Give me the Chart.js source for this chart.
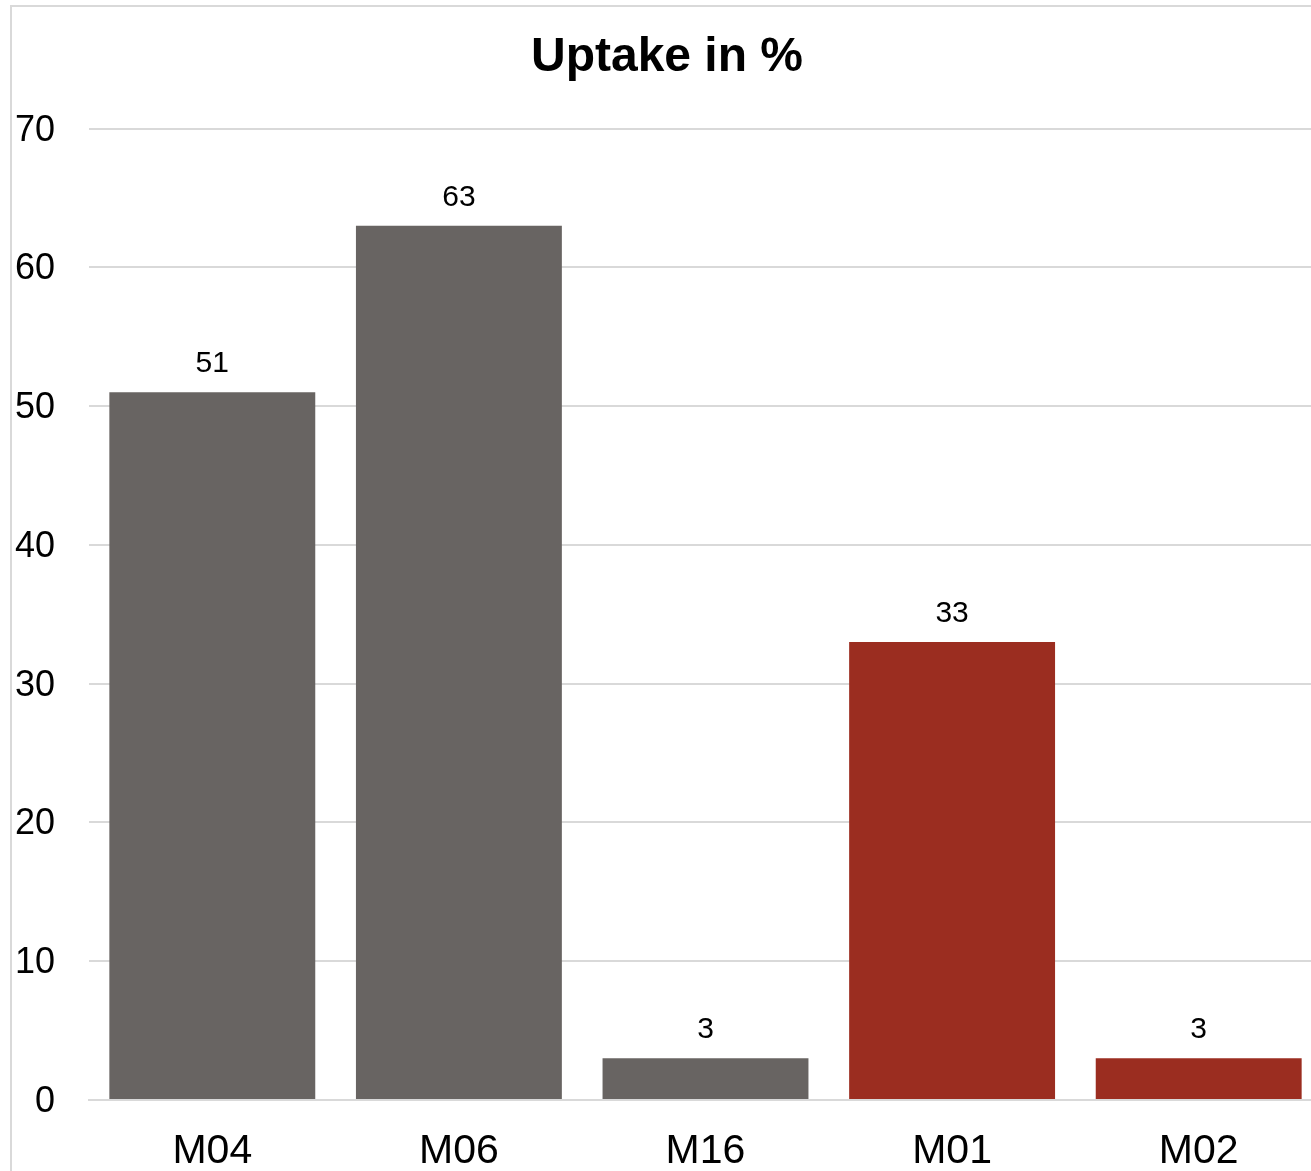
<!DOCTYPE html>
<html>
<head>
<meta charset="utf-8">
<title>Uptake in %</title>
<script src="https://cdn.jsdelivr.net/npm/chart.js@4/dist/chart.umd.min.js"></script>
<style>
  html, body { margin: 0; padding: 0; background: #fff; overflow: hidden; }
  #wrap {
    position: absolute;
    left: 10px;
    top: 5px;
    width: 1317px;
    height: 1200px;
    border: 2px solid #d9d9d9;
  }
</style>
</head>
<body>
<div id="wrap"><canvas id="chart"></canvas></div>
<script>
// Chart data
const categories = ["M04", "M06", "M16", "M01", "M02"];
const uptake = [51, 63, 3, 33, 3];
const yTicks = [0, 10, 20, 30, 40, 50, 60, 70];

// Bar colours (grey for the first three, red for the last two)
const barColors = ["#686462", "#686462", "#686462", "#9b2d20", "#9b2d20"];

const FONT = "'Liberation Sans', Arial, sans-serif";

// Small plugin that writes the value above each bar
const valueLabels = {
  id: "valueLabels",
  afterDatasetsDraw(chart) {
    const ctx = chart.ctx;
    const meta = chart.getDatasetMeta(0);
    ctx.save();
    ctx.font = "30px " + FONT;
    ctx.fillStyle = "#000";
    ctx.textAlign = "center";
    ctx.textBaseline = "alphabetic";
    meta.data.forEach((bar, i) => {
      ctx.fillText(String(uptake[i]), bar.x, bar.y - 20);
    });
    ctx.restore();
  }
};

const ctx = document.getElementById("chart").getContext("2d");
new Chart(ctx, {
  type: "bar",
  data: {
    labels: categories,
    datasets: [{
      data: uptake,
      backgroundColor: barColors,
      borderWidth: 0,
      barPercentage: 0.835,
      categoryPercentage: 1
    }]
  },
  options: {
    responsive: true,
    maintainAspectRatio: false,
    animation: false,
    devicePixelRatio: 1,
    layout: { padding: { left: 0, right: 7, top: 0, bottom: 0 } },
    plugins: {
      legend: { display: false },
      tooltip: { enabled: false },
      title: {
        display: true,
        text: "Uptake in %",
        color: "#000",
        font: { family: FONT, size: 48, weight: "bold", lineHeight: 1.2 },
        padding: { top: 22, bottom: 42 }
      }
    },
    scales: {
      x: {
        grid: { display: false, drawTicks: false },
        border: { display: true, color: "#d9d9d9", width: 2 },
        ticks: {
          color: "#000",
          font: { family: FONT, size: 41 },
          padding: 27,
          maxRotation: 0
        },
        afterFit(scale) { scale.height = 107; }
      },
      y: {
        min: 0,
        max: 70,
        afterBuildTicks(scale) {
          scale.ticks = yTicks.map(v => ({ value: v }));
        },
        grid: { color: "#d9d9d9", lineWidth: 2, drawTicks: false },
        border: { display: false },
        ticks: {
          color: "#000",
          font: { family: FONT, size: 36 },
          padding: 34,
          labelOffset: 2
        },
        afterFit(scale) { scale.width = 77; }
      }
    }
  },
  plugins: [valueLabels]
});
</script>
</body>
</html>
